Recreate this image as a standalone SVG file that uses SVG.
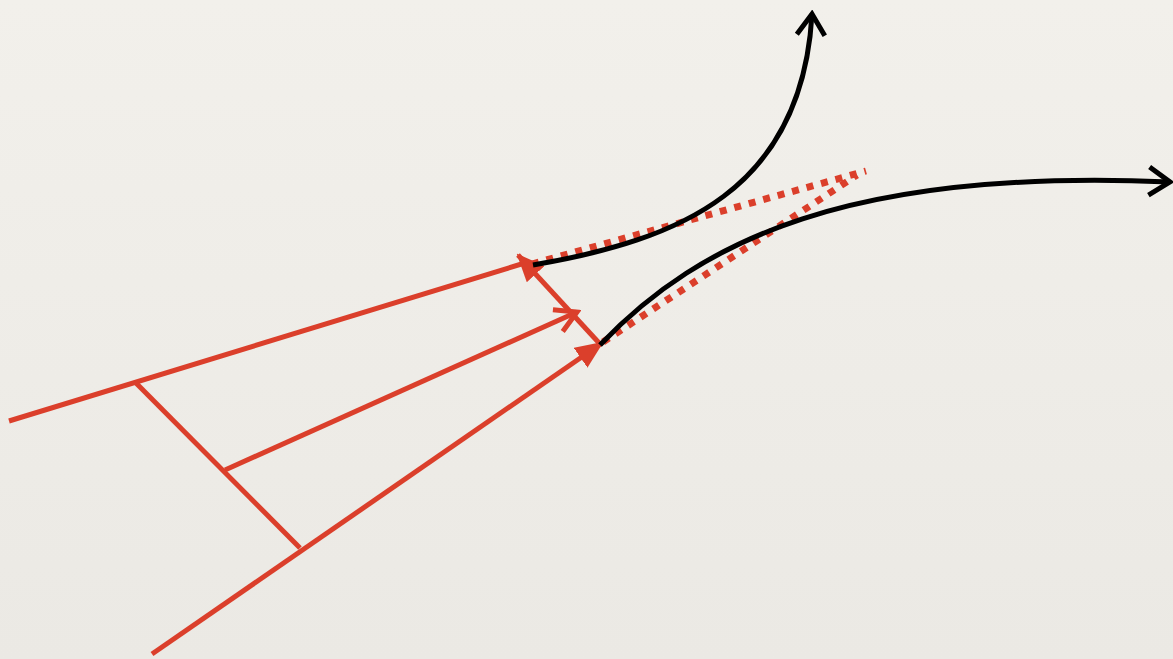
<svg xmlns="http://www.w3.org/2000/svg" width="1173" height="659" viewBox="0 0 1173 659">
  <style>
    .red { stroke: #db3f2b; stroke-width: 5; fill: none; }
    .blk { stroke: #000; stroke-width: 5; fill: none; }
    .dot { stroke: #db3f2b; stroke-width: 7; stroke-dasharray: 7 8; fill: none; }
  </style>
  <defs>
    <linearGradient id="bg" x1="0" y1="0" x2="0" y2="1">
      <stop offset="0" stop-color="#f2f0eb"/>
      <stop offset="1" stop-color="#ebe9e4"/>
    </linearGradient>
    <marker id="tri" markerUnits="userSpaceOnUse" viewBox="0 0 28 24" refX="26" refY="12" markerWidth="28" markerHeight="24" orient="auto">
      <path d="M0,0 L28,12 L0,24 z" fill="#db3f2b"/>
    </marker>
    <marker id="chevR" markerUnits="userSpaceOnUse" viewBox="0 0 28 30" refX="24" refY="15" markerWidth="28" markerHeight="30" orient="auto">
      <path d="M3,3 L24,15 L3,27" fill="none" stroke="#db3f2b" stroke-width="5"/>
    </marker>
    <marker id="chevK" markerUnits="userSpaceOnUse" viewBox="0 0 28 34" refX="24" refY="17" markerWidth="28" markerHeight="34" orient="auto">
      <path d="M3,3 L24,17 L3,31" fill="none" stroke="#000" stroke-width="5"/>
    </marker>
  </defs>
  <rect width="1173" height="659" fill="url(#bg)"/>
  <g id="connectors">
    <line class="red" x1="9" y1="421" x2="528" y2="262"/>
    <line class="red" x1="135" y1="382" x2="300" y2="548"/>
    <line class="red" x1="225" y1="470" x2="577" y2="312" marker-end="url(#chevR)"/>
    <line class="red" x1="152" y1="654" x2="602" y2="343" marker-end="url(#tri)"/>
    <line class="red" x1="600" y1="344" x2="518" y2="255" marker-end="url(#tri)"/>
    <line class="dot" x1="532" y1="264" x2="866" y2="171"/>
    <line class="dot" x1="603" y1="342" x2="857" y2="175"/>
    <path class="blk" d="M533,265 C680,240 802,190 812,14" marker-end="url(#chevK)"/>
    <path class="blk" d="M600,345 C700,240 850,168 1170,182" marker-end="url(#chevK)"/>
  </g>
</svg>
